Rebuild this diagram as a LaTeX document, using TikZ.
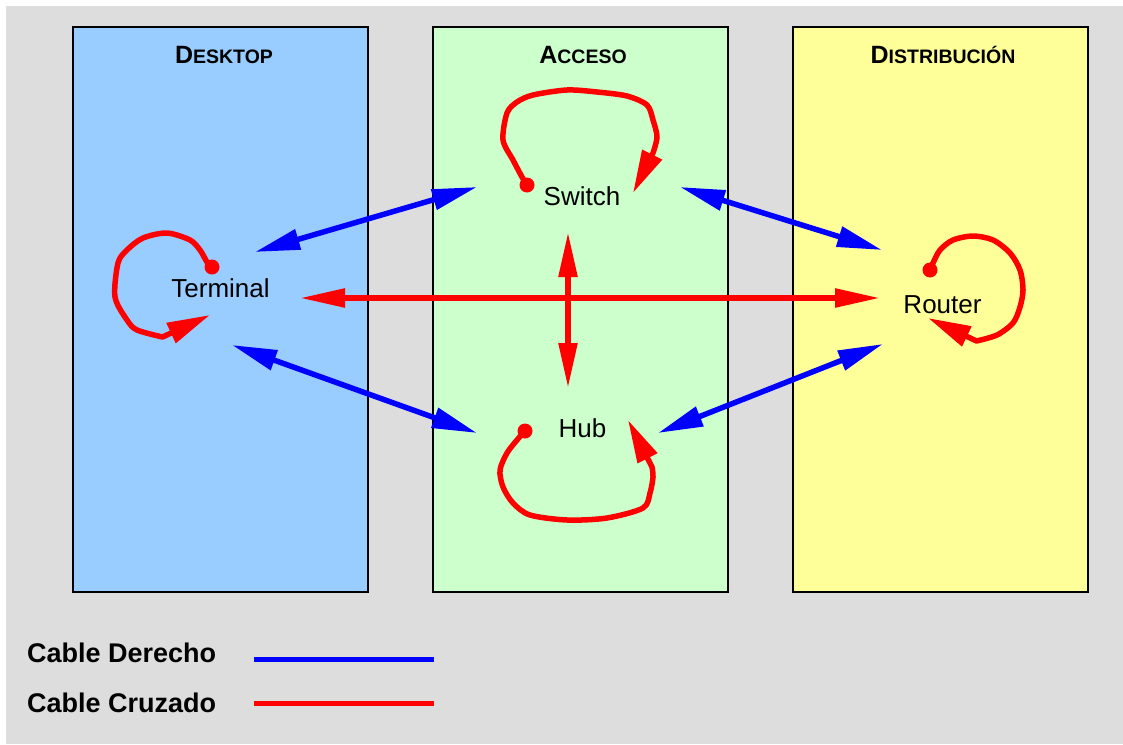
\documentclass[tikz,border=0pt]{standalone}
\usepackage{fontspec}
\setmainfont{Liberation Sans}
\usetikzlibrary{arrows.meta,calc}

\definecolor{panelgray}{HTML}{DDDDDD}
\definecolor{deskblue}{HTML}{99CCFF}
\definecolor{accgreen}{HTML}{CCFFCC}
\definecolor{distyellow}{HTML}{FFFF99}
\definecolor{cableblue}{HTML}{0000FF}
\definecolor{cablered}{HTML}{FF0000}

% hand-made small caps: big initial, smaller capitals after it
\newcommand\layertitle[2]{{\fontsize{25}{30}\selectfont #1}{\fontsize{19.5}{23}\selectfont #2}}

\begin{document}
\begin{tikzpicture}[x=1pt,y=-1pt,
  layerbox/.style={draw=black,line width=2pt},
  layertext/.style={font=\bfseries,anchor=base,inner sep=0pt},
  device/.style={font={\fontsize{26}{31}\selectfont},anchor=base,inner sep=0pt},
  legendtext/.style={font={\bfseries\fontsize{27}{32}\selectfont},anchor=base west,inner sep=0pt},
  straightcable/.style={draw=cableblue,line width=5.5pt,{Triangle[length=45pt,width=20pt]}-{Triangle[length=45pt,width=20pt]}},
  crossedcable/.style={draw=cablered,line width=5.5pt,{Triangle[length=45pt,width=18pt]}-{Triangle[length=45pt,width=18pt]}},
  selfloop/.style={draw=cablered,line width=5.5pt,line join=round,line cap=round,-{Triangle[length=43pt,width=21pt]}},
  plug/.style={fill=cablered},
  samplered/.style={draw=cablered,line width=5pt},
  sampleblue/.style={draw=cableblue,line width=5pt}
]
\useasboundingbox (0,0) rectangle (1123,744);
\fill[white] (0,0) rectangle (1123,744);
\fill[panelgray] (6,6) rectangle (1123,744);

% the three layers
\draw[layerbox,fill=deskblue]   (73,27)  rectangle (368,592);
\draw[layerbox,fill=accgreen]   (433,27) rectangle (728,592);
\draw[layerbox,fill=distyellow] (793,27) rectangle (1088,592);

\node[layertext] (t-desk) at (224,63) {\layertitle{D}{ESKTOP}};
\node[layertext] (t-acc)  at (583,63) {\layertitle{A}{CCESO}};
\node[layertext] (t-dist) at (943,63) {\layertitle{D}{ISTRIBUCIÓN}};

% devices
\node[device] (terminal) at (220.5,297) {Terminal};
\node[device] (switch)   at (582,205)   {Switch};
\node[device] (hub)      at (582.5,437) {Hub};
\node[device] (router)   at (942.5,313) {Router};

% straight-through cables
\draw[straightcable] ($(terminal.base)+(34.5,-45)$) -- ($(switch.base)+(-105,-18)$);
\draw[straightcable] ($(switch.base)+(98,-18)$)     -- ($(router.base)+(-60.5,-63)$);
\draw[straightcable] ($(terminal.base)+(11.5,48)$)  -- ($(hub.base)+(-105.5,-4)$);
\draw[straightcable] ($(hub.base)+(75.5,-4)$)       -- ($(router.base)+(-59.5,31)$);

% crossover cables
\draw[crossedcable] ($(terminal.base)+(79.5,1)$) -- ($(router.base)+(-62.5,-15)$);
\draw[crossedcable] ($(switch.base)+(-14,27)$)   -- ($(hub.base)+(-14.5,-49)$);

% crossover loops of each device onto itself
\begin{scope}[shift={(switch.base)}]
  \coordinate (switch-plug) at (-55,-20);
  \fill[plug] (switch-plug) circle (7.5);
  \draw[selfloop] plot[smooth,tension=0.5] coordinates {(-55,-20) (-60,-28) (-69,-45) (-79,-65) (-75,-92) (-65,-103) (-49,-110) (-15,-115) (15,-113) (45,-109) (65,-100) (71,-85) (75,-68) (71,-52)} -- (51,-12);
\end{scope}

\begin{scope}[shift={(terminal.base)}]
  \coordinate (terminal-plug) at (-8.5,-30);
  \fill[plug] (terminal-plug) circle (7.5);
  \draw[selfloop] plot[smooth,tension=0.5] coordinates {(-8.5,-30) (-13.5,-35) (-20.5,-47) (-30.5,-57) (-53.5,-64) (-77.5,-59) (-93.5,-47) (-102.5,-34) (-105.5,0) (-93.5,23) (-83.5,33) (-58,40)} -- (-10.5,18);
\end{scope}

\begin{scope}[shift={(router.base)}]
  \coordinate (router-plug) at (-12.5,-43);
  \fill[plug] (router-plug) circle (7.5);
  \draw[selfloop] plot[smooth,tension=0.5] coordinates {(-12.5,-43) (-9.5,-50) (-2.5,-63) (10.5,-73) (30.5,-77) (50.5,-73) (67.5,-60) (77.5,-43) (80.5,-23) (77.5,-6) (70.5,10) (54.5,22) (34,28)} -- (-14.5,5);
\end{scope}

\begin{scope}[shift={(hub.base)}]
  \coordinate (hub-plug) at (-57.5,-6);
  \fill[plug] (hub-plug) circle (7.5);
  \draw[selfloop] plot[smooth,tension=0.5] coordinates {(-57.5,-6) (-65.5,3) (-75.5,16) (-82.5,33) (-79.5,50) (-69.5,66) (-52.5,78) (-15.5,83) (24.5,81) (60.5,71) (67.5,56) (70.5,40) (69.5,30)} -- (45.5,-17);
\end{scope}

% legend
\node[legendtext] (derecho)  at (27,662) {Cable Derecho};
\node[legendtext] (cruzado)  at (27,712) {Cable Cruzado};
\coordinate (derecho-a) at (254,659);
\coordinate (derecho-b) at (434,659);
\coordinate (cruzado-a) at (254,703);
\coordinate (cruzado-b) at (434,703);
\draw[sampleblue] (derecho-a) -- (derecho-b);
\draw[samplered]  (cruzado-a) -- (cruzado-b);
\end{tikzpicture}
\end{document}
